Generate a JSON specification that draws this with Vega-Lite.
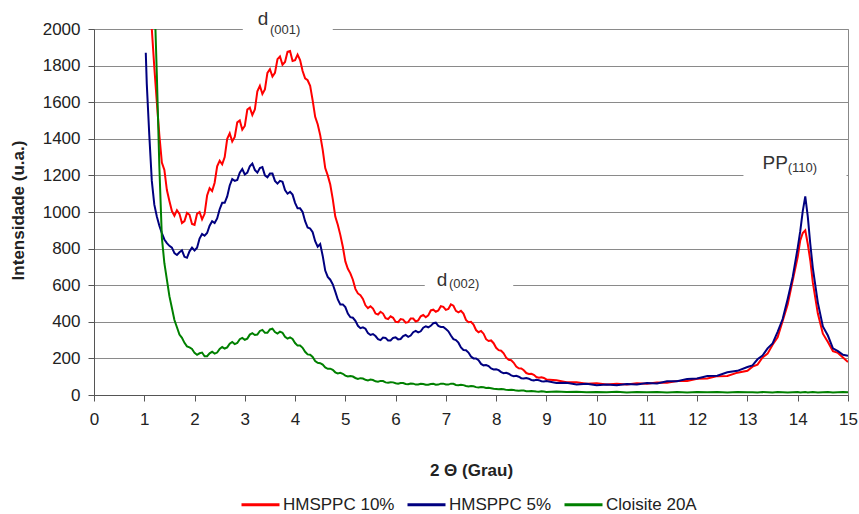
{
"$schema": "https://vega.github.io/schema/vega-lite/v6.json",
"width": 754, "height": 366,
"autosize": {"type": "none"},
"padding": {"left": 94, "top": 29, "right": 11, "bottom": 119},
"background": "white",
"config": {
  "font": "Liberation Sans",
  "view": {"stroke": "#888888"},
  "axis": {"labelFont": "Liberation Sans", "labelFontSize": 17, "labelColor": "#222222", "titleFont": "Liberation Sans", "titleFontSize": 17, "titleFontWeight": "bold", "titleColor": "#222222", "domainColor": "#555555", "tickColor": "#555555", "gridColor": "#8a8a8a", "gridOpacity": 1}
},
"data": {"values": [
{"x":1.03,"b":1870},{"x":1.05,"b":1700},{"x":1.1,"r":2400,"b":1420},{"x":1.15,"r":2000,"b":1170,"g":2700},
{"x":1.2,"r":1790,"b":1040,"g":2200},{"x":1.25,"r":1600,"b":975,"g":1750},{"x":1.3,"r":1420,"b":925,"g":1250},
{"x":1.35,"r":1270,"b":885,"g":860},{"x":1.4,"r":1230,"b":850,"g":720},{"x":1.45,"r":1120,"b":830,"g":630},
{"x":1.5,"r":1060,"b":815,"g":540},{"x":1.6,"r":980,"b":775,"g":410},{"x":1.7,"r":990,"b":780,"g":330},
{"x":1.8,"r":950,"b":755,"g":285},{"x":1.9,"r":985,"b":785,"g":260},{"x":2.0,"r":930,"b":790,"g":230},
{"x":2.1,"r":1000,"b":855,"g":228},{"x":2.2,"r":990,"b":870,"g":212},{"x":2.3,"r":1130,"b":925,"g":228},
{"x":2.4,"r":1160,"b":940,"g":226},{"x":2.5,"r":1280,"b":1015,"g":252},{"x":2.6,"r":1300,"b":1050,"g":254},
{"x":2.7,"r":1430,"b":1145,"g":280},{"x":2.8,"r":1410,"b":1170,"g":278},{"x":2.9,"r":1500,"b":1215,"g":305},
{"x":3.0,"r":1470,"b":1205,"g":302},{"x":3.1,"r":1570,"b":1250,"g":330},{"x":3.2,"r":1560,"b":1230,"g":328},
{"x":3.3,"r":1690,"b":1240,"g":350},{"x":3.4,"r":1670,"b":1200,"g":340},{"x":3.5,"r":1780,"b":1210,"g":358},
{"x":3.6,"r":1760,"b":1170,"g":344},{"x":3.7,"r":1850,"b":1170,"g":346},{"x":3.8,"r":1820,"b":1120,"g":318},
{"x":3.9,"r":1880,"b":1110,"g":315},{"x":4.0,"r":1830,"b":1050,"g":284},{"x":4.1,"r":1830,"b":1020,"g":270},
{"x":4.2,"r":1730,"b":950,"g":236},{"x":4.3,"r":1690,"b":910,"g":220},{"x":4.4,"r":1520,"b":840,"g":186},
{"x":4.5,"r":1420,"b":825,"g":174},{"x":4.6,"r":1240,"b":680,"g":151},{"x":4.7,"r":1150,"b":630,"g":144},
{"x":4.8,"r":975,"b":565,"g":124},{"x":4.9,"r":875,"b":495,"g":121},{"x":5.0,"r":730,"b":480,"g":106},
{"x":5.1,"r":665,"b":425,"g":104},{"x":5.2,"r":580,"b":405,"g":93},{"x":5.3,"r":545,"b":365,"g":92},
{"x":5.4,"r":490,"b":362,"g":83},{"x":5.5,"r":485,"b":328,"g":84},{"x":5.6,"r":445,"b":322,"g":75},
{"x":5.7,"r":455,"b":300,"g":77},{"x":5.8,"r":420,"b":312,"g":69},{"x":5.9,"r":430,"b":298,"g":70},
{"x":6.0,"r":400,"b":315,"g":64},{"x":6.1,"r":415,"b":306,"g":66},{"x":6.2,"r":395,"b":328,"g":60},
{"x":6.3,"r":418,"b":325,"g":63},{"x":6.4,"r":402,"b":350,"g":57},{"x":6.5,"r":430,"b":348,"g":61},
{"x":6.6,"r":425,"b":375,"g":56},{"x":6.7,"r":462,"b":378,"g":60},{"x":6.8,"r":455,"b":395,"g":56},
{"x":6.9,"r":485,"b":372,"g":62},{"x":7.0,"r":465,"b":360,"g":58},{"x":7.1,"r":495,"b":325,"g":62},
{"x":7.2,"r":460,"b":300,"g":55},{"x":7.3,"r":460,"b":260,"g":56},{"x":7.4,"r":410,"b":245,"g":49},
{"x":7.5,"r":400,"b":210,"g":49},{"x":7.6,"r":355,"b":200,"g":43},{"x":7.7,"r":350,"b":170,"g":44},
{"x":7.8,"r":305,"b":164,"g":38},{"x":7.9,"r":298,"b":145,"g":37},{"x":8.0,"r":258,"b":141,"g":33},
{"x":8.1,"r":242,"b":125,"g":33},{"x":8.2,"r":204,"b":121,"g":28},{"x":8.3,"r":190,"b":107,"g":29},
{"x":8.4,"r":155,"b":105,"g":24},{"x":8.5,"r":145,"b":92,"g":25},{"x":8.6,"r":120,"b":93,"g":21},
{"x":8.7,"r":116,"b":82,"g":22},{"x":8.8,"r":98,"b":83,"g":19},{"x":8.9,"r":97,"b":75,"g":20},
{"x":9.0,"r":85,"b":76,"g":17},{"x":9.2,"r":80,"b":66,"g":19},{"x":9.4,"r":70,"b":67,"g":16},
{"x":9.6,"r":70,"b":58,"g":18},{"x":9.8,"r":62,"b":61,"g":15},{"x":10.0,"r":64,"b":53,"g":17},
{"x":10.2,"r":57,"b":58,"g":15},{"x":10.4,"r":62,"b":53,"g":18},{"x":10.6,"r":57,"b":60,"g":14},
{"x":10.8,"r":64,"b":57,"g":17},{"x":11.0,"r":61,"b":65,"g":15},{"x":11.2,"r":68,"b":63,"g":17},
{"x":11.4,"r":67,"b":75,"g":14},{"x":11.6,"r":76,"b":75,"g":16},{"x":11.8,"r":77,"b":88,"g":14},
{"x":12.0,"r":89,"b":90,"g":17},{"x":12.2,"r":90,"b":104,"g":15},{"x":12.4,"r":103,"b":105,"g":16},
{"x":12.6,"r":104,"b":124,"g":14},{"x":12.8,"r":122,"b":132,"g":16},{"x":13.0,"r":132,"b":153,"g":15},
{"x":13.1,"r":155,"b":162,"g":15},{"x":13.2,"r":166,"b":195,"g":14},{"x":13.3,"r":205,"b":216,"g":16},
{"x":13.4,"r":226,"b":255,"g":15},{"x":13.5,"r":275,"b":282,"g":14},{"x":13.6,"r":315,"b":345,"g":16},
{"x":13.7,"r":405,"b":415,"g":15},{"x":13.8,"r":495,"b":525,"g":14},{"x":13.9,"r":625,"b":645,"g":15},
{"x":14.0,"r":755,"b":805,"g":16},{"x":14.05,"r":845,"b":895,"g":14},{"x":14.1,"r":885,"b":1005,"g":15},
{"x":14.15,"r":900,"b":1085,"g":16},{"x":14.2,"r":825,"b":975,"g":14},{"x":14.25,"r":735,"b":825,"g":15},
{"x":14.3,"r":615,"b":695,"g":16},{"x":14.4,"r":445,"b":505,"g":14},{"x":14.5,"r":335,"b":375,"g":15},
{"x":14.6,"r":290,"b":325,"g":16},{"x":14.7,"r":240,"b":255,"g":14},{"x":14.8,"r":230,"b":240,"g":15},
{"x":14.9,"r":205,"b":220,"g":16},{"x":15.0,"r":180,"b":215,"g":15},
{"x":1.55,"r":1005,"b":805,"g":475},{"x":1.65,"r":1010,"b":765,"g":370},{"x":1.75,"r":940,"b":790,"g":312},
{"x":1.85,"r":995,"b":750,"g":266},{"x":1.95,"r":935,"b":805,"g":252},{"x":2.05,"r":990,"b":805,"g":220},
{"x":2.15,"r":960,"b":880,"g":232},{"x":2.25,"r":1090,"b":885,"g":212},{"x":2.35,"r":1115,"b":950,"g":236},
{"x":2.45,"r":1250,"b":965,"g":232},{"x":2.55,"r":1260,"b":1050,"g":262},{"x":2.65,"r":1400,"b":1085,"g":260},
{"x":2.75,"r":1385,"b":1180,"g":290},{"x":2.85,"r":1490,"b":1175,"g":284},{"x":2.95,"r":1450,"b":1235,"g":312},
{"x":3.05,"r":1560,"b":1215,"g":308},{"x":3.15,"r":1530,"b":1265,"g":338},{"x":3.25,"r":1660,"b":1215,"g":330},
{"x":3.35,"r":1645,"b":1245,"g":356},{"x":3.45,"r":1760,"b":1190,"g":340},{"x":3.55,"r":1740,"b":1210,"g":362},
{"x":3.65,"r":1835,"b":1155,"g":336},{"x":3.75,"r":1805,"b":1165,"g":340},{"x":3.85,"r":1875,"b":1100,"g":308},
{"x":3.95,"r":1825,"b":1095,"g":306},{"x":4.05,"r":1860,"b":1020,"g":270},{"x":4.15,"r":1770,"b":1000,"g":258},
{"x":4.25,"r":1720,"b":915,"g":222},{"x":4.35,"r":1610,"b":890,"g":208},{"x":4.45,"r":1480,"b":810,"g":176},
{"x":4.55,"r":1340,"b":760,"g":166},{"x":4.65,"r":1200,"b":645,"g":143},{"x":4.75,"r":1070,"b":605,"g":138},
{"x":4.85,"r":930,"b":522,"g":118},{"x":4.95,"r":810,"b":495,"g":116},{"x":5.05,"r":690,"b":445,"g":101},
{"x":5.15,"r":630,"b":422,"g":101},{"x":5.25,"r":555,"b":378,"g":88},{"x":5.35,"r":525,"b":370,"g":90},
{"x":5.45,"r":475,"b":338,"g":80},{"x":5.55,"r":472,"b":333,"g":82},{"x":5.65,"r":440,"b":305,"g":73},
{"x":5.75,"r":445,"b":314,"g":76},{"x":5.85,"r":415,"b":298,"g":67},{"x":5.95,"r":422,"b":312,"g":69},
{"x":6.05,"r":398,"b":304,"g":62},{"x":6.15,"r":412,"b":322,"g":65},{"x":6.25,"r":398,"b":318,"g":59},
{"x":6.35,"r":418,"b":343,"g":62},{"x":6.45,"r":408,"b":342,"g":57},{"x":6.55,"r":437,"b":368,"g":60},
{"x":6.65,"r":435,"b":370,"g":56},{"x":6.75,"r":466,"b":392,"g":61},{"x":6.85,"r":462,"b":378,"g":57},
{"x":6.95,"r":482,"b":372,"g":62},{"x":7.05,"r":470,"b":348,"g":57},{"x":7.15,"r":488,"b":305,"g":61},
{"x":7.25,"r":452,"b":286,"g":53},{"x":7.35,"r":445,"b":246,"g":54},{"x":7.45,"r":398,"b":232,"g":47},
{"x":7.55,"r":385,"b":200,"g":48},{"x":7.65,"r":343,"b":190,"g":41},{"x":7.75,"r":335,"b":162,"g":42},
{"x":7.85,"r":295,"b":158,"g":39},{"x":7.95,"r":283,"b":140,"g":34},{"x":8.05,"r":245,"b":136,"g":31},
{"x":8.15,"r":228,"b":119,"g":31},{"x":8.25,"r":192,"b":116,"g":27},{"x":8.35,"r":176,"b":103,"g":27},
{"x":8.45,"r":146,"b":100,"g":23},{"x":8.55,"r":135,"b":90,"g":24},{"x":8.65,"r":115,"b":89,"g":20},
{"x":8.75,"r":110,"b":80,"g":21},{"x":8.85,"r":95,"b":81,"g":18},{"x":8.95,"r":93,"b":74,"g":19}
]},
"encoding": {
  "x": {"field": "x", "type": "quantitative", "scale": {"domain": [0, 15], "nice": false, "zero": false},
        "axis": {"title": "2 Θ (Grau)", "values": [0,1,2,3,4,5,6,7,8,9,10,11,12,13,14,15], "format": "d", "grid": false, "tickSize": 6, "labelPadding": 10, "titleX": 377, "titleY": 75, "titleAlign": "center", "titleBaseline": "middle", "labelFlush": false}},
  "y": {"field": "y", "type": "quantitative", "scale": {"domain": [0, 2000], "nice": false},
        "axis": {"title": "Intensidade (u.a.)", "values": [0,200,400,600,800,1000,1200,1400,1600,1800,2000], "format": "d", "grid": true, "tickSize": 6, "labelPadding": 8, "titleX": -76, "titleY": 181, "titleAngle": -90, "titleAlign": "center", "titleBaseline": "middle", "titleFontSize": 17, "labelFlush": false}}
},
"layer": [
  {
    "data": {"values": [{"x":2.96,"x2":4.75,"y":1975,"y2":2030},{"x":6.58,"x2":8.34,"y":575,"y2":628},{"x":12.92,"x2":14.97,"y":1175,"y2":1228}]},
    "mark": {"type": "rect", "fill": "white", "clip": false},
    "encoding": {"x2": {"field": "x2"}, "y2": {"field": "y2"}}
  },
  {
    "data": {"values": [{"x":3.26,"y":2057,"t":"d"},{"x":6.82,"y":628,"t":"d"},{"x":13.3,"y":1270,"t":"PP"}]},
    "mark": {"type": "text", "align": "left", "baseline": "middle", "fontSize": 19, "color": "#333333", "clip": false},
    "encoding": {"text": {"field": "t"}}
  },
  {
    "data": {"values": [{"x":3.5,"y":1997,"t":"(001)"},{"x":7.06,"y":607,"t":"(002)"},{"x":13.8,"y":1243,"t":"(110)"}]},
    "mark": {"type": "text", "align": "left", "baseline": "middle", "fontSize": 13, "color": "#333333", "clip": false},
    "encoding": {"text": {"field": "t"}}
  },
  {
    "transform": [{"fold": ["r","b","g"], "as": ["k","y"]}, {"filter": "datum.k == 'r' && isValid(datum.y)"}],
    "mark": {"type": "line", "strokeWidth": 2, "clip": true},
    "encoding": {"color": {"field": "k", "type": "nominal", "scale": {"domain": ["r","b","g"], "range": ["#ff0000","#000080","#008000"]},
      "legend": {"title": null, "orient": "none", "legendX": 146, "legendY": 455, "direction": "horizontal", "symbolType": "stroke", "symbolStrokeWidth": 3, "symbolSize": 1444, "labelFontSize": 17, "labelColor": "#222222", "labelOffset": 2, "columnPadding": 6, "padding": 0,
        "labelExpr": "datum.value == 'r' ? 'HMSPPC 10%' : datum.value == 'b' ? 'HMSPPC 5%' : 'Cloisite 20A'"}}}
  },
  {
    "transform": [{"fold": ["r","b","g"], "as": ["k","y"]}, {"filter": "datum.k == 'b' && isValid(datum.y)"}],
    "mark": {"type": "line", "strokeWidth": 2, "clip": true},
    "encoding": {"color": {"field": "k", "type": "nominal"}}
  },
  {
    "transform": [{"fold": ["r","b","g"], "as": ["k","y"]}, {"filter": "datum.k == 'g' && isValid(datum.y)"}],
    "mark": {"type": "line", "strokeWidth": 2, "clip": true},
    "encoding": {"color": {"field": "k", "type": "nominal"}}
  }
]
}
